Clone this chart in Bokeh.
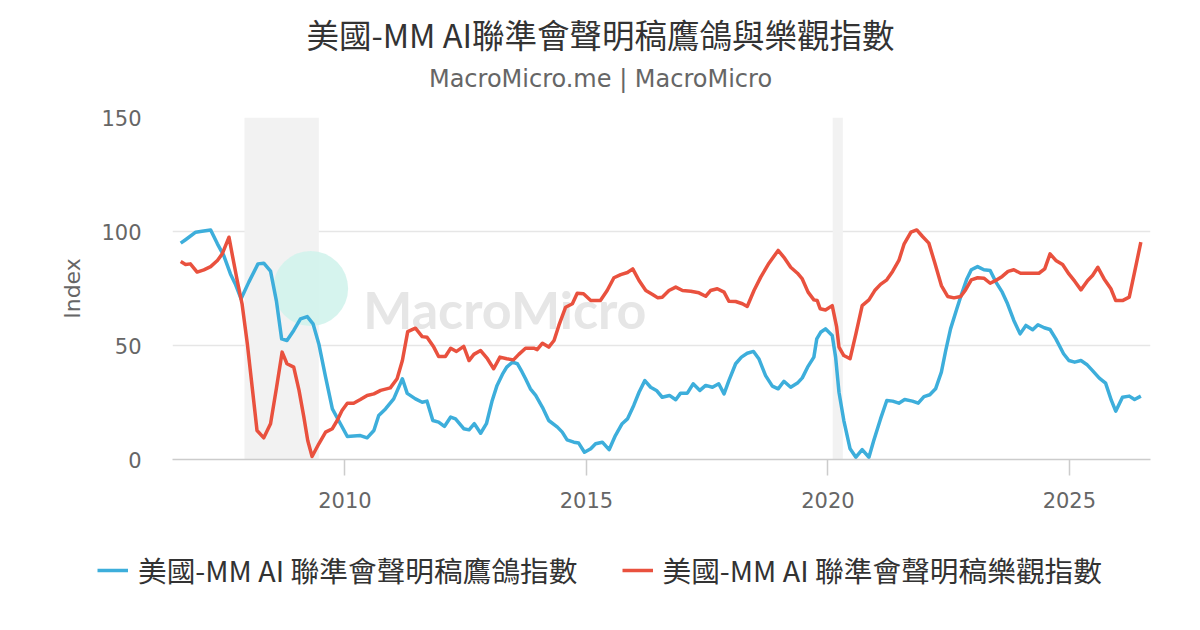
from bokeh.plotting import figure
from bokeh.models import BoxAnnotation, Legend, LegendItem, FixedTicker, Range1d, Label
from bokeh.layouts import column
from bokeh.embed import file_html
from bokeh.resources import INLINE
from bokeh.core.properties import value

title_text = "美國-MM AI聯準會聲明稿鷹鴿與樂觀指數"
subtitle_text = "MacroMicro.me | MacroMicro"
hawk_name = "美國-MM AI 聯準會聲明稿鷹鴿指數"
opt_name = "美國-MM AI 聯準會聲明稿樂觀指數"

hawk_x = [2006.60, 2006.70, 2006.91, 2007.04, 2007.22, 2007.36, 2007.49, 2007.63, 2007.73, 2007.85,
          2008.01, 2008.20, 2008.32, 2008.46, 2008.58, 2008.69, 2008.80, 2008.94, 2009.08, 2009.22,
          2009.34, 2009.46, 2009.60, 2009.74, 2009.87, 2010.05, 2010.32, 2010.46, 2010.60, 2010.70,
          2010.84, 2011.01, 2011.19, 2011.29, 2011.46, 2011.60, 2011.70, 2011.82, 2011.94, 2012.06,
          2012.19, 2012.29, 2012.46, 2012.57, 2012.68, 2012.81, 2012.93, 2013.05, 2013.15, 2013.26,
          2013.35, 2013.47, 2013.57, 2013.67, 2013.74, 2013.84, 2013.95, 2014.09, 2014.22, 2014.40,
          2014.50, 2014.60, 2014.74, 2014.84, 2014.96, 2015.09, 2015.19, 2015.33, 2015.47, 2015.60,
          2015.74, 2015.85, 2015.98, 2016.09, 2016.21, 2016.33, 2016.45, 2016.57, 2016.72, 2016.85,
          2016.95, 2017.09, 2017.21, 2017.35, 2017.47, 2017.61, 2017.74, 2017.85, 2017.95, 2018.09,
          2018.21, 2018.33, 2018.46, 2018.57, 2018.71, 2018.85, 2018.97, 2019.09, 2019.23, 2019.37,
          2019.47, 2019.58, 2019.71, 2019.77, 2019.85, 2019.95, 2020.09, 2020.16, 2020.23, 2020.33,
          2020.46, 2020.58, 2020.71, 2020.85, 2020.95, 2021.09, 2021.22, 2021.34, 2021.47, 2021.59,
          2021.75, 2021.87, 2021.99, 2022.11, 2022.23, 2022.35, 2022.44, 2022.54, 2022.67, 2022.77,
          2022.88, 2022.97, 2023.10, 2023.23, 2023.36, 2023.48, 2023.61, 2023.72, 2023.85, 2023.98,
          2024.10, 2024.24, 2024.35, 2024.48, 2024.60, 2024.72, 2024.88, 2024.99, 2025.11, 2025.24,
          2025.36, 2025.48, 2025.62, 2025.75, 2025.87, 2025.96, 2026.10, 2026.24, 2026.35, 2026.48]
hawk_y = [94.9, 96.4, 99.7, 100.1, 100.7, 94.6, 89.5, 81.4, 77.0, 70.5,
          77.8, 85.8, 86.1, 82.6, 69.7, 52.9, 52.2, 56.6, 61.7, 62.7,
          59.5, 50.7, 36.1, 22.2, 17.1, 10.1, 10.5, 9.5, 12.7, 19.3,
          22.2, 26.6, 35.4, 29.0, 26.6, 25.1, 25.6, 17.1, 16.4, 14.5,
          18.6, 17.8, 13.5, 13.0, 15.7, 11.5, 15.7, 25.9, 32.5, 37.3,
          40.5, 42.7, 42.0, 38.3, 35.4, 31.0, 28.1, 22.9, 17.1, 14.2,
          12.0, 8.6, 7.6, 7.2, 3.2, 4.7, 6.9, 7.6, 4.3, 10.5,
          15.7, 17.8, 23.7, 29.5, 34.6, 31.7, 30.3, 27.3, 28.1, 26.2,
          29.1, 29.1, 33.2, 30.3, 32.5, 31.7, 33.2, 28.8, 34.6, 42.0,
          44.9, 46.6, 47.4, 44.2, 36.8, 32.2, 31.0, 34.3, 31.7, 33.5,
          35.8, 40.5, 44.9, 52.9, 55.8, 57.3, 54.4, 44.9, 29.5, 17.1,
          4.7, 1.0, 4.3, 1.0, 8.3, 17.8, 25.9, 25.6, 24.7, 26.3,
          25.6, 24.7, 27.6, 28.4, 31.0, 38.3, 47.8, 57.3, 66.1, 72.7,
          79.3, 83.2, 84.6, 83.2, 82.9, 77.8, 73.4, 68.3, 61.0, 55.1,
          58.8, 56.9, 59.1, 57.8, 57.0, 52.9, 46.4, 43.4, 42.7, 43.4,
          41.7, 39.0, 35.7, 33.5, 25.9, 21.2, 27.3, 27.8, 26.3, 27.8]

opt_x = [2006.60, 2006.70, 2006.80, 2006.94, 2007.08, 2007.22, 2007.36, 2007.46, 2007.60, 2007.67,
         2007.77, 2007.87, 2007.98, 2008.08, 2008.18, 2008.32, 2008.46, 2008.58, 2008.70, 2008.80,
         2008.94, 2009.05, 2009.15, 2009.23, 2009.32, 2009.46, 2009.60, 2009.74, 2009.84, 2009.94,
         2010.05, 2010.18, 2010.32, 2010.46, 2010.60, 2010.74, 2010.94, 2011.08, 2011.19, 2011.30,
         2011.46, 2011.60, 2011.70, 2011.84, 2011.94, 2012.08, 2012.19, 2012.31, 2012.46, 2012.57,
         2012.67, 2012.81, 2012.95, 2013.08, 2013.21, 2013.35, 2013.49, 2013.60, 2013.74, 2013.91,
         2013.98, 2014.09, 2014.22, 2014.33, 2014.43, 2014.57, 2014.71, 2014.81, 2014.94, 2015.09,
         2015.29, 2015.43, 2015.57, 2015.71, 2015.85, 2015.96, 2016.09, 2016.23, 2016.37, 2016.48,
         2016.57, 2016.71, 2016.85, 2016.99, 2017.16, 2017.33, 2017.47, 2017.57, 2017.71, 2017.85,
         2017.95, 2018.09, 2018.23, 2018.33, 2018.47, 2018.61, 2018.78, 2018.97, 2019.09, 2019.23,
         2019.37, 2019.47, 2019.59, 2019.71, 2019.78, 2019.84, 2019.95, 2020.09, 2020.18, 2020.23,
         2020.33, 2020.46, 2020.58, 2020.71, 2020.85, 2020.97, 2021.09, 2021.22, 2021.34, 2021.47,
         2021.58, 2021.72, 2021.84, 2021.96, 2022.09, 2022.21, 2022.35, 2022.48, 2022.61, 2022.75,
         2022.85, 2022.97, 2023.10, 2023.23, 2023.36, 2023.50, 2023.61, 2023.73, 2023.85, 2023.99,
         2024.13, 2024.26, 2024.37, 2024.49, 2024.60, 2024.72, 2024.86, 2024.99, 2025.11, 2025.24,
         2025.38, 2025.48, 2025.59, 2025.72, 2025.86, 2025.96, 2026.10, 2026.24, 2026.35, 2026.48]
opt_y = [86.8, 85.5, 85.8, 82.2, 83.2, 84.6, 87.3, 90.2, 97.5, 89.5,
         78.5, 68.3, 50.7, 31.7, 12.7, 9.5, 15.7, 31.0, 47.1, 42.0,
         40.5, 30.3, 18.6, 8.3, 1.3, 6.9, 12.0, 13.5, 17.1, 21.5,
         24.7, 24.7, 26.3, 28.1, 28.8, 30.3, 31.4, 35.4, 43.4, 56.1,
         57.6, 53.9, 53.6, 49.3, 45.2, 45.2, 48.8, 47.4, 49.6, 43.4,
         46.1, 47.8, 44.2, 39.8, 44.9, 44.2, 43.7, 46.1, 48.8, 48.8,
         48.2, 51.0, 49.3, 52.2, 58.8, 66.8, 68.3, 72.9, 72.7, 69.7,
         69.7, 74.1, 79.7, 81.1, 82.0, 83.6, 78.5, 74.1, 72.4, 70.9,
         71.2, 74.1, 75.6, 74.1, 73.8, 73.1, 71.6, 74.1, 74.9, 73.4,
         69.4, 69.3, 68.3, 67.1, 74.1, 80.0, 86.1, 91.7, 88.7, 84.3,
         81.7, 79.2, 73.4, 70.0, 69.7, 66.1, 65.6, 67.5, 58.3, 49.3,
         45.6, 44.2, 55.1, 67.5, 70.0, 74.1, 76.8, 78.8, 82.5, 87.3,
         94.6, 99.7, 100.7, 97.8, 94.9, 86.5, 76.3, 71.5, 70.9, 71.5,
         74.4, 78.8, 79.7, 79.5, 77.3, 78.8, 80.3, 82.5, 83.2, 81.7,
         81.7, 81.7, 81.7, 83.6, 90.2, 87.3, 85.5, 81.4, 78.2, 74.4,
         78.5, 80.7, 84.3, 79.2, 74.9, 69.7, 69.7, 71.2, 82.2, 95.3]

rec_start = [2007.92, 2020.10]
rec_end = [2009.46, 2020.31]
x_ticks = [2010, 2015, 2020, 2025]
y_ticks = [0, 50, 100, 150]

HAWK_COLOR = "#3DAEDB"
OPT_COLOR = "#E9513E"
GRID = "#e6e6e6"
LABEL_GRAY = "#666666"
W = 1184
FRAME_LEFT = 172   # column aligns frames to the chart's frame


def blank_strip(height):
    f = figure(width=W, height=height, output_backend="svg", toolbar_location=None,
               title_location=None, x_range=Range1d(0, 1), y_range=Range1d(0, 1),
               min_border_left=0, min_border_right=0, min_border_top=0, min_border_bottom=0)
    f.axis.visible = False
    f.grid.visible = False
    f.outline_line_color = None
    return f


# ---- title strip ----
top = blank_strip(100)
top.add_layout(Label(x=600 - FRAME_LEFT, y=67, x_units="screen", y_units="screen", text=title_text,
                     text_font="Noto Sans CJK TC", text_font_size="32.5px", text_color="#333333",
                     text_align="center", text_baseline="middle"))
top.add_layout(Label(x=600 - FRAME_LEFT, y=22, x_units="screen", y_units="screen", text=subtitle_text,
                     text_font="DejaVu Sans", text_font_size="24px", text_color=LABEL_GRAY,
                     text_align="center", text_baseline="middle"))

# ---- main chart ----
p = figure(width=W, height=426, output_backend="svg", toolbar_location=None,
           title_location=None,
           x_range=Range1d(2006.43, 2026.68), y_range=Range1d(0, 150),
           min_border_left=FRAME_LEFT, min_border_right=34, min_border_top=17, min_border_bottom=67)
p.outline_line_color = None
p.background_fill_color = "white"
p.border_fill_color = "white"

for s, e in zip(rec_start, rec_end):
    p.add_layout(BoxAnnotation(left=s, right=e, fill_color="#f2f2f2", fill_alpha=1.0,
                               line_color=None, level="underlay"))

# watermark
p.scatter(x=[2009.29], y=[75.0], size=75, marker="circle", fill_color="#d2f3ec",
          fill_alpha=0.9, line_color=None)
p.text(x=[2010.38], y=[66.2], text=["MacroMicro"], text_font=value("Lato"),
       text_font_style="bold", text_font_size="52px", text_color="#e6e6e6",
       text_baseline="alphabetic", text_align="left")

r_hawk = p.line(hawk_x, hawk_y, line_color=HAWK_COLOR, line_width=3.5, line_join="round")
r_opt = p.line(opt_x, opt_y, line_color=OPT_COLOR, line_width=3.5, line_join="round")

p.xaxis.ticker = FixedTicker(ticks=x_ticks)
p.xaxis.axis_line_color = "#cccccc"
p.xaxis.axis_line_width = 1.5
p.xaxis.major_tick_line_color = "#cccccc"
p.xaxis.major_tick_line_width = 1.5
p.xaxis.major_tick_in = 0
p.xaxis.major_tick_out = 16
p.xaxis.minor_tick_line_color = None
p.xaxis.major_label_standoff = 16
p.xaxis.major_label_text_font = "DejaVu Sans"
p.xaxis.major_label_text_font_size = "21px"
p.xaxis.major_label_text_color = LABEL_GRAY

p.yaxis.ticker = FixedTicker(ticks=y_ticks)
p.yaxis.axis_line_color = None
p.yaxis.major_tick_line_color = None
p.yaxis.minor_tick_line_color = None
p.yaxis.major_label_standoff = 25
p.yaxis.major_label_text_font = "DejaVu Sans"
p.yaxis.major_label_text_font_size = "21px"
p.yaxis.major_label_text_color = LABEL_GRAY
p.yaxis.axis_label = "Index"
p.yaxis.axis_label_text_font = "DejaVu Sans"
p.yaxis.axis_label_text_font_size = "22px"
p.yaxis.axis_label_text_font_style = "normal"
p.yaxis.axis_label_text_color = LABEL_GRAY
p.yaxis.axis_label_standoff = 13

p.xgrid.grid_line_color = None
p.ygrid.ticker = FixedTicker(ticks=y_ticks)
p.ygrid.grid_line_color = GRID
p.ygrid.grid_line_width = 1.5

# ---- legend strip ----
lg = blank_strip(88)
unaligned = True
try:
    lg.frame_align = False          # let this strip's frame span the whole width
except Exception:
    unaligned = False

lg_hawk = lg.line(hawk_x, hawk_y, line_color=HAWK_COLOR, line_width=3.5)
lg_opt = lg.line(opt_x, opt_y, line_color=OPT_COLOR, line_width=3.5)
legend = Legend(items=[LegendItem(label=hawk_name, renderers=[lg_hawk]),
                       LegendItem(label=opt_name, renderers=[lg_opt])],
                orientation="horizontal")
legend.label_text_font = "Noto Sans CJK TC"
legend.label_text_font_size = "28.7px"
legend.label_text_color = "#333333"
legend.glyph_width = 31
legend.glyph_height = 24
legend.label_standoff = 10
legend.spacing = 44
legend.padding = 4
legend.margin = 0
legend.border_line_color = None
legend.background_fill_alpha = 0
if unaligned:
    legend.location = (97, 24)
    lg.add_layout(legend)
else:
    legend.location = (97 - FRAME_LEFT, -20)
    lg.add_layout(legend, "below")

layout = column(top, p, lg, spacing=0)
open("out.html", "w").write(file_html(layout, INLINE))
